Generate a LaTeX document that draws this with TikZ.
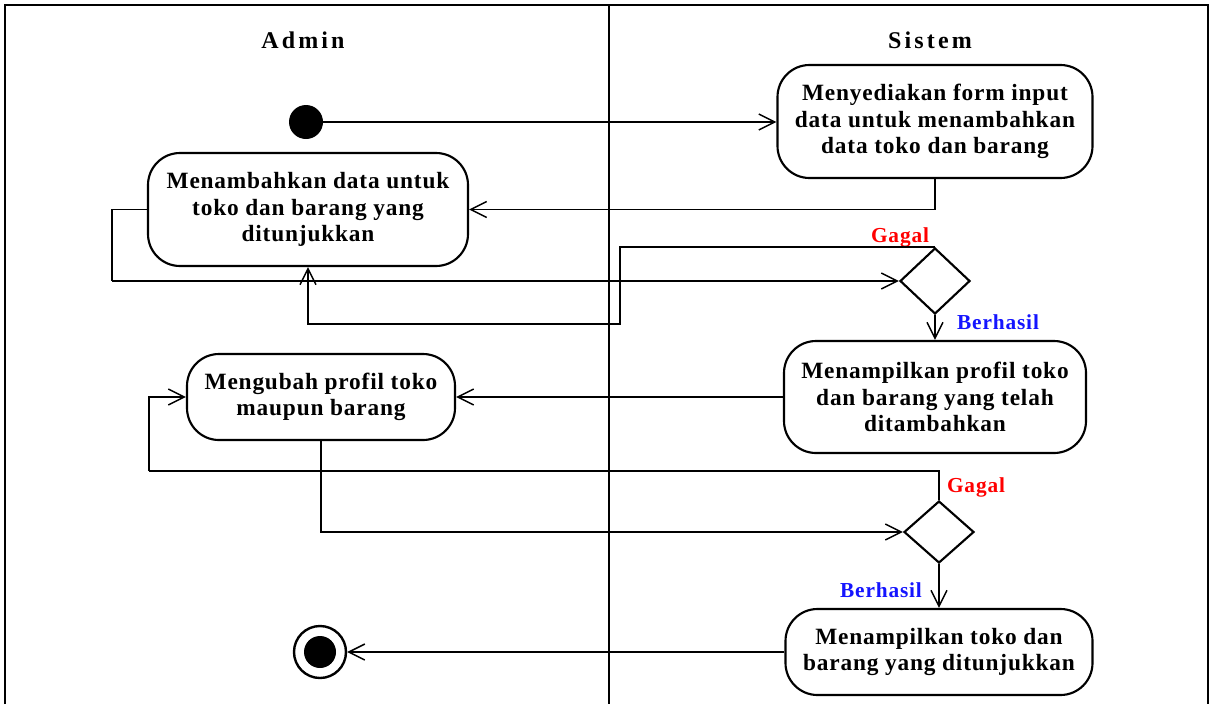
\documentclass[tikz,border=0pt]{standalone}
\usepackage{fontspec}
\setmainfont{Liberation Serif}
\newfontfamily\actfont[LetterSpace=3.5]{Liberation Serif}
\newfontfamily\lanefont[LetterSpace=13]{Liberation Serif}
\newfontfamily\guardfont[LetterSpace=4]{Liberation Serif}
\usetikzlibrary{arrows.meta,shapes.geometric}

\definecolor{failred}{RGB}{255,0,0}
\definecolor{okblue}{RGB}{20,20,255}

\begin{document}
\begin{tikzpicture}[x=0.75pt,y=-0.75pt,
  act/.style={draw, line width=1.6pt, rounded corners=24pt, align=center,
    inner sep=0pt, font=\actfont\bfseries\fontsize{17.5}{19.9}\selectfont},
  decision/.style={draw, diamond, line width=1.6pt, inner sep=0pt},
  lane/.style={font=\lanefont\bfseries\fontsize{18}{21}\selectfont},
  guard/.style={font=\guardfont\bfseries\fontsize{16}{18}\selectfont},
  flow/.style={line width=1.1pt, -{Straight Barb[length=12pt,width=12pt]}},
  link/.style={line width=1.1pt},
  frame/.style={line width=1.1pt}]

\useasboundingbox (0,0) rectangle (1214,704);

% swimlane frame and divider
\draw[frame] (5,704) -- (5,5) -- (1208,5) -- (1208,704);
\draw[frame] (609,5) -- (609,704);

\node[lane] (admin) at (303,40) {Admin};
\node[lane] (sistem) at (930,40) {Sistem};

% initial and final nodes
\node[circle, fill=black, inner sep=0pt, minimum size=25.5pt] (start) at (306,122) {};
\node[circle, draw, line width=1.8pt, inner sep=0pt, minimum size=39pt] (stop) at (320,652) {};
\node[circle, fill=black, inner sep=0pt, minimum size=24pt] (stopdot) at (320,652) {};

% activities
\node[act, minimum width=236.25pt, minimum height=84.75pt] (b1) at (935,121.5)
  {Menyediakan form input\\data untuk menambahkan\\data toko dan barang};
\node[act, minimum width=240pt, minimum height=84.75pt] (a1) at (308,209.5)
  {Menambahkan data untuk\\toko dan barang yang\\ditunjukkan};
\node[act, minimum width=226.5pt, minimum height=84pt] (b2) at (935,397)
  {Menampilkan profil toko\\dan barang yang telah\\ditambahkan};
\node[act, minimum width=201pt, minimum height=64.5pt] (a2) at (321,397)
  {Mengubah profil toko\\maupun barang};
\node[act, minimum width=230.25pt, minimum height=64.5pt] (b3) at (939,652)
  {Menampilkan toko dan\\barang yang ditunjukkan};

% decisions
\node[decision, minimum width=52.5pt, minimum height=49.5pt] (d1) at (935,281) {};
\node[decision, minimum width=52.5pt, minimum height=46.5pt] (d2) at (939,532) {};

% guards
\node[guard, text=failred] (g1lbl) at (900,237) {Gagal};
\node[guard, text=okblue] (b1lbl) at (998,322) {Berhasil};
\node[guard, text=failred] (g2lbl) at (976,487) {Gagal};
\node[guard, text=okblue] (b2lbl) at (881,590) {Berhasil};

% bend points
\coordinate (c1) at (112,281);
\coordinate (c2) at (620,324);
\coordinate (c3) at (149,471);

% flows
\draw[flow] (start) -- (start -| b1.west);
\draw[flow] (b1.south) |- (a1.east);
\draw[link] (a1.west) -| (c1);
\draw[flow] (c1) -- (d1.west);
\draw[flow] (d1.north) -| (c2) -| (a1.south);
\draw[flow] (d1.south) -- (b2.north);
\draw[flow] (b2.west) -- (a2.east);
\draw[link] (d2.north) |- (c3);
\draw[flow] (c3) |- (a2.west);
\draw[flow] (a2.south) |- (d2.west);
\draw[flow] (d2.south) -- (b3.north);
\draw[flow] (b3.west) -- (stop.east);

\end{tikzpicture}
\end{document}
